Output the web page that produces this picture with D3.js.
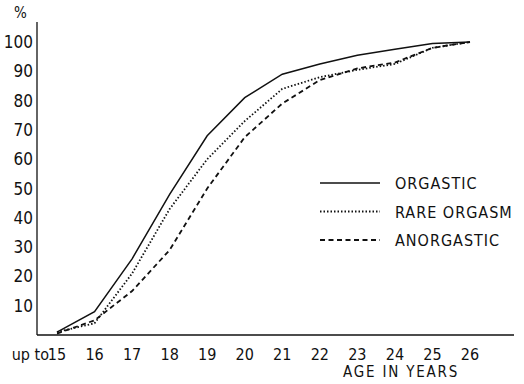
<!DOCTYPE html>
<html>
<head>
<meta charset="utf-8">
<script src="https://cdn.jsdelivr.net/npm/d3@7"></script>
<style>
  body { margin: 0; background: #fff; }
  svg text { font-family: "DejaVu Sans Condensed", "Liberation Sans", sans-serif; fill: #111; }
</style>
</head>
<body>
<div id="chart"></div>
<script>
// ages on the x axis
var ages = [15, 16, 17, 18, 19, 20, 21, 22, 23, 24, 25, 26];
var yTicks = [10, 20, 30, 40, 50, 60, 70, 80, 90, 100];

// cumulative percentages
var orgastic    = [1, 8, 26, 48, 68, 81, 89, 92.5, 95.5, 97.5, 99.5, 100];
var rareOrgasm  = [1, 4, 21, 43, 60, 73, 84, 88, 90.5, 92.5, 98, 100];
var anorgastic  = [0.5, 5, 15, 29, 50, 67.5, 79, 87, 91, 93, 98, 100];

var seriesNames = ["ORGASTIC", "RARE  ORGASM", "ANORGASTIC"];

var width = 524, height = 384;

var svg = d3.select("#chart").append("svg")
    .attr("width", width)
    .attr("height", height);

// set the ranges
var x = d3.scaleLinear().domain([15, 26]).range([57, 470]);
var y = d3.scaleLinear().domain([0, 100]).range([335, 42]);

var ink = "#111";

// axes drawn as plain lines, no tick marks in the original
svg.append("line")
    .attr("x1", 37).attr("x2", 37)
    .attr("y1", 22).attr("y2", y(0))
    .attr("stroke", ink).attr("stroke-width", 1.3);
svg.append("line")
    .attr("x1", 37).attr("x2", 514)
    .attr("y1", y(0)).attr("y2", y(0))
    .attr("stroke", ink).attr("stroke-width", 1.3);

// y labels
svg.selectAll(".ylab")
    .data(yTicks)
  .enter().append("text")
    .attr("class", "ylab")
    .attr("x", 33)
    .attr("y", function(d) { return y(d) + 6; })
    .attr("text-anchor", "end")
    .style("font-size", "17px")
    .text(function(d) { return d; });

svg.append("text")
    .attr("x", 14).attr("y", 18)
    .style("font-size", "15px")
    .text("%");

// x labels
svg.selectAll(".xlab")
    .data(ages)
  .enter().append("text")
    .attr("class", "xlab")
    .attr("x", function(d) { return x(d); })
    .attr("y", 360)
    .attr("text-anchor", "middle")
    .style("font-size", "16px")
    .text(function(d) { return d; });

svg.append("text")
    .attr("x", x(15) - 8).attr("y", 360)
    .attr("text-anchor", "end")
    .style("font-size", "16px")
    .text("up to");

svg.append("text")
    .attr("x", 343).attr("y", 377)
    .style("font-size", "15px")
    .style("letter-spacing", "1.8px")
    .text("AGE  IN  YEARS");

// lines
var styles = [
  { dash: null, w: 1.5 },
  { dash: "1.5,2", w: 1.8 },
  { dash: "5,3.5", w: 1.8 }
];
var allSeries = [orgastic, rareOrgasm, anorgastic];

var valueline = d3.line()
    .x(function(d, i) { return x(ages[i]); })
    .y(function(d) { return y(d); });

svg.selectAll(".line")
    .data(allSeries)
  .enter().append("path")
    .attr("class", "line")
    .attr("d", valueline)
    .attr("fill", "none")
    .attr("stroke", ink)
    .attr("stroke-width", function(d, i) { return styles[i].w; })
    .attr("stroke-dasharray", function(d, i) { return styles[i].dash; });

// legend
var legend = svg.selectAll(".legend")
    .data(seriesNames)
  .enter().append("g")
    .attr("class", "legend")
    .attr("transform", function(d, i) { return "translate(320," + (183 + i * 28.5) + ")"; });

legend.append("line")
    .attr("x1", 0).attr("x2", 60)
    .attr("y1", 0).attr("y2", 0)
    .attr("stroke", ink)
    .attr("stroke-width", function(d, i) { return styles[i].w; })
    .attr("stroke-dasharray", function(d, i) { return styles[i].dash; });

legend.append("text")
    .attr("x", 75).attr("y", 6)
    .style("font-size", "16px")
    .style("letter-spacing", "1px")
    .text(function(d) { return d; });
</script>
</body>
</html>
